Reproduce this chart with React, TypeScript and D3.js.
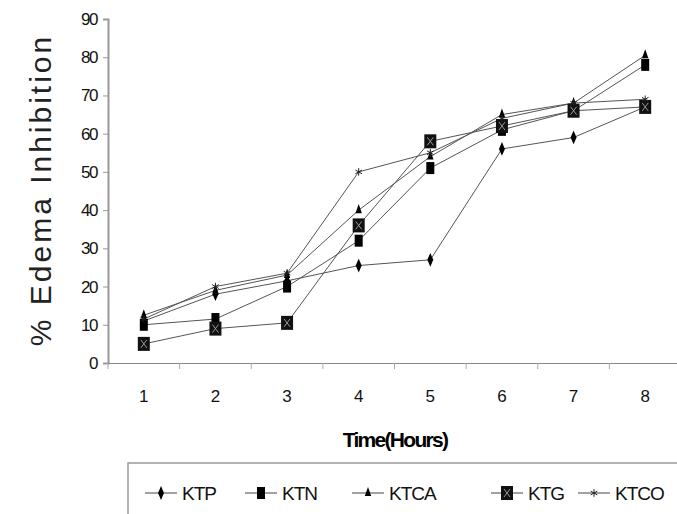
import React, { useEffect, useRef } from 'react';
import * as d3 from 'd3';

const hours = ['1', '2', '3', '4', '5', '6', '7', '8'];
const yTicks = [0, 10, 20, 30, 40, 50, 60, 70, 80, 90];

const ktp = [11, 18, 21.5, 25.5, 27, 56, 59, 67];
const ktn = [10, 11.5, 20, 32, 51, 61, 66, 78];
const ktca = [12.5, 19, 23, 40, 54, 65, 68, 80.5];
const ktg = [5, 9, 10.5, 36, 58, 62, 66, 67];
const ktco = [11.5, 20, 23.5, 50, 55, 64, 68, 69];

const seriesNames = ['KTP', 'KTN', 'KTCA', 'KTG', 'KTCO'];

type Mark = 'diamond' | 'square' | 'triangle' | 'bigsquare' | 'asterisk';

function drawMarker(g: d3.Selection<SVGGElement, unknown, null, undefined>, kind: Mark, x: number, y: number) {
  if (kind === 'diamond') {
    g.append('path').attr('d', d3.symbol(d3.symbolDiamond, 38)()).attr('transform', `translate(${x},${y}) scale(0.9,1.2)`).attr('fill', '#000');
  } else if (kind === 'square') {
    g.append('rect').attr('x', x - 4).attr('y', y - 6).attr('width', 8).attr('height', 12).attr('fill', '#000');
  } else if (kind === 'triangle') {
    g.append('path').attr('d', d3.symbol(d3.symbolTriangle, 28)()).attr('transform', `translate(${x},${y}) scale(0.8,1.3)`).attr('fill', '#000');
  } else if (kind === 'bigsquare') {
    g.append('rect').attr('x', x - 6).attr('y', y - 7).attr('width', 12).attr('height', 14).attr('fill', '#111');
    g.append('path').attr('d', `M${x - 3},${y - 4}L${x + 3},${y + 4}M${x + 3},${y - 4}L${x - 3},${y + 4}`)
      .attr('stroke', '#999').attr('stroke-width', 1);
  } else {
    g.append('path').attr('d', d3.symbol(d3.symbolAsterisk, 40)()).attr('transform', `translate(${x},${y})`)
      .attr('fill', 'none').attr('stroke', '#222').attr('stroke-width', 1);
  }
}

export default function App() {
  const svgRef = useRef<SVGSVGElement>(null);

  useEffect(() => {
    if (!svgRef.current) return;
    const svg = d3.select(svgRef.current);
    svg.selectAll('*').remove();

    const x = d3.scaleBand().domain(hours).range([108, 681]).padding(0);
    const y = d3.scaleLinear().domain([0, 90]).range([363, 19]);
    const cx = (h: string) => (x(h) as number) + x.bandwidth() / 2;

    const font = '"Liberation Sans", Arial, sans-serif';

    // y axis
    const yAxis = svg.append('g')
      .attr('transform', 'translate(108,0)')
      .call(d3.axisLeft(y).tickValues(yTicks).tickSize(5).tickPadding(6));
    yAxis.select('.domain').attr('stroke', '#999').attr('stroke-width', 2);
    yAxis.selectAll('.tick line').attr('stroke', '#999');
    yAxis.selectAll('.tick text').attr('font-family', font).attr('font-size', 17)
      .attr('letter-spacing', '-1.5px').attr('fill', '#111');

    // x axis
    const xAxis = svg.append('g')
      .attr('transform', 'translate(0,363)')
      .call(d3.axisBottom(x).tickSize(0).tickPadding(27));
    xAxis.select('.domain').attr('stroke', '#888').attr('stroke-width', 1);
    xAxis.selectAll('.tick text').attr('font-family', font).attr('font-size', 17).attr('fill', '#111');
    const bounds = hours.map(h => x(h) as number).concat([681]);
    xAxis.selectAll('.bound').data(bounds).enter().append('line')
      .attr('x1', d => d).attr('x2', d => d).attr('y1', 0).attr('y2', 6)
      .attr('stroke', '#aaa');

    const line = d3.line<number>()
      .x((d, i) => cx(hours[i]))
      .y(d => y(d));

    const all: [number[], Mark][] = [
      [ktp, 'diamond'],
      [ktn, 'square'],
      [ktca, 'triangle'],
      [ktg, 'bigsquare'],
      [ktco, 'asterisk'],
    ];

    all.forEach(([vals]) => {
      svg.append('path').datum(vals)
        .attr('fill', 'none').attr('stroke', '#555').attr('stroke-width', 1)
        .attr('d', line);
    });
    const mg = svg.append('g');
    all.forEach(([vals, kind]) => {
      vals.forEach((v, i) => drawMarker(mg as any, kind, cx(hours[i]), y(v)));
    });

    // titles
    svg.append('text')
      .attr('transform', 'translate(51,190) rotate(-90)')
      .attr('text-anchor', 'middle')
      .attr('font-family', font).attr('font-size', 30).attr('fill', '#222')
      .attr('letter-spacing', '3px')
      .text('% Edema Inhibition');

    svg.append('text')
      .attr('x', 395).attr('y', 447)
      .attr('text-anchor', 'middle')
      .attr('font-family', font).attr('font-size', 21).attr('font-weight', 'bold')
      .attr('letter-spacing', '-1.7px').attr('fill', '#000')
      .text('Time(Hours)');

    // legend
    svg.append('rect')
      .attr('x', 128).attr('y', 463).attr('width', 560).attr('height', 70)
      .attr('fill', 'none').attr('stroke', '#999').attr('stroke-width', 1.5);

    const legendX = [145, 245, 352, 491, 578];
    const lg = svg.append('g');
    all.forEach(([, kind], i) => {
      const lx = legendX[i];
      const ly = 493;
      lg.append('line').attr('x1', lx).attr('x2', lx + 32).attr('y1', ly).attr('y2', ly)
        .attr('stroke', '#444').attr('stroke-width', 1);
      drawMarker(lg as any, kind, lx + 16, ly);
      lg.append('text')
        .attr('x', lx + 37).attr('y', ly + 7)
        .attr('font-family', font).attr('font-size', 19).attr('letter-spacing', '-1px')
        .attr('fill', '#111')
        .text(seriesNames[i]);
    });
  }, []);

  return (
    <svg ref={svgRef} width={677} height={514}
      style={{ position: 'absolute', left: 0, top: 0, background: '#fff' }} />
  );
}
